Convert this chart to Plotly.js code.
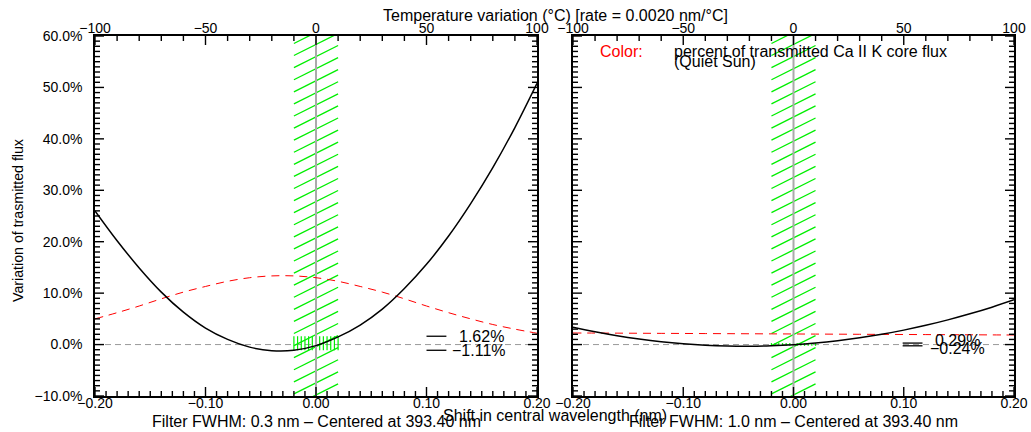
<!DOCTYPE html>
<html><head><meta charset="utf-8">
<script src="https://cdn.plot.ly/plotly-3.0.1.min.js"></script>
<style>html,body{margin:0;padding:0;background:#fff}#chart{width:1031px;height:432px}</style>
</head><body><div id="chart"></div>
<script>
// Shift in central wavelength (nm)
const shift = [-0.20,-0.18,-0.16,-0.14,-0.12,-0.10,-0.08,-0.06,-0.04,-0.02,0.00,0.02,0.04,0.06,0.08,0.10,0.12,0.14,0.16,0.18,0.20];
// Variation of transmitted flux (%), FWHM 0.3 nm
const fluxL  = [26.0,20.2,14.9,10.2,6.3,3.2,1.0,-0.5,-1.19,-1.11,-0.2,1.5,3.8,6.9,10.9,15.6,21.1,27.4,34.4,42.2,50.8];
// Percent of transmitted Ca II K core flux, FWHM 0.3 nm
const colorL = [5.0,6.2,7.5,8.9,10.2,11.3,12.3,13.0,13.35,13.35,13.0,12.3,11.3,10.2,8.9,7.5,6.2,5.0,3.9,3.0,2.2];
// Variation of transmitted flux (%), FWHM 1.0 nm
const fluxR  = [3.39,2.50,1.73,1.09,0.56,0.16,-0.12,-0.28,-0.32,-0.24,-0.04,0.29,0.74,1.31,2.00,2.81,3.74,4.80,5.98,7.27,8.70];
// Percent of transmitted Ca II K core flux, FWHM 1.0 nm
const colorR = [2.25,2.24,2.22,2.20,2.18,2.16,2.14,2.12,2.10,2.08,2.06,2.04,2.02,2.00,1.98,1.96,1.94,1.92,1.90,1.88,1.86];
// Filter passband (nm) and in-band extremes (%)
const band  = [-0.02, 0.02];
const bandL = [1.62, -1.11];
const bandR = [0.29, -0.24];
const fwhmLabels = ['0.3', '1.0'];
const centerWl = '393.40';
const rate = 0.0020; // nm per degree C
// tick spacing: bottom (nm), top (degC), left (%)
const xTick = {major:0.1, minor:0.01};
const tTick = {major:50, minor:10};
const yTick = {major:10, minor:1};

const FONT = 'Liberation Sans, Arial, Helvetica, sans-serif';
const GREEN = '#00ee00';

function fmt(v){ return (v<0?'\u2212':'')+Math.abs(v).toFixed(2)+'%'; }

const yRange = [-10, 60];
const xRange = [-0.2, 0.2];
const tRange = [xRange[0]/rate, xRange[1]/rate];
const yPx = 360, xPx = [442, 441];

function diagHatch(rise, step){
  const xs=[], ys=[];
  for(let y=yRange[0]-rise; y<=yRange[1]; y+=step){
    xs.push(band[0], band[1], null); ys.push(y, y+rise, null);
  }
  return {xs, ys};
}
function vertHatch(lo, hi, n){
  const xs=[], ys=[];
  for(let i=0;i<=n;i++){
    const x = band[0] + (band[1]-band[0])*i/n;
    xs.push(x, x, null); ys.push(lo, hi, null);
  }
  return {xs, ys};
}
// inward tick marks built from the axis ranges and tick spacing
function tickMarks(wPx){
  const kx = (xRange[1]-xRange[0])/wPx, ky = (yRange[1]-yRange[0])/yPx;
  const xs=[], ys=[];
  const nx = Math.round((xRange[1]-xRange[0])/xTick.minor), per = Math.round(xTick.major/xTick.minor);
  for(let i=0;i<=nx;i++){
    const x = xRange[0]+i*xTick.minor, L = (i%per===0?9:5)*ky;
    xs.push(x,x,null); ys.push(yRange[0], yRange[0]+L, null);
  }
  const nt = Math.round((tRange[1]-tRange[0])/tTick.minor), pt = Math.round(tTick.major/tTick.minor);
  for(let i=0;i<=nt;i++){
    const x = (tRange[0]+i*tTick.minor)*rate, L = (i%pt===0?9:5)*ky;
    xs.push(x,x,null); ys.push(yRange[1], yRange[1]-L, null);
  }
  const ny = Math.round((yRange[1]-yRange[0])/yTick.minor), py = Math.round(yTick.major/yTick.minor);
  for(let i=0;i<=ny;i++){
    const y = yRange[0]+i*yTick.minor, L = (i%py===0?9:5)*kx;
    xs.push(xRange[0], xRange[0]+L, null, xRange[1], xRange[1]-L, null);
    ys.push(y, y, null, y, y, null);
  }
  return {xs, ys};
}

const traces = [];
function panel(xa, ya, flux, color, bv, wPx){
  const h = diagHatch(4.3, 2.35);
  traces.push({x:h.xs, y:h.ys, xaxis:xa, yaxis:ya, mode:'lines', line:{color:GREEN, width:1.3}, hoverinfo:'skip', connectgaps:false});
  const v = vertHatch(Math.min(...bv), Math.max(...bv), 12);
  traces.push({x:v.xs, y:v.ys, xaxis:xa, yaxis:ya, mode:'lines', line:{color:GREEN, width:1.2}, hoverinfo:'skip', connectgaps:false});
  const c = (band[0]+band[1])/2;
  traces.push({x:[c,c], y:yRange, xaxis:xa, yaxis:ya, mode:'lines', line:{color:'#aaaaaa', width:2}, hoverinfo:'skip'});
  traces.push({x:shift, y:color, xaxis:xa, yaxis:ya, mode:'lines', line:{color:'#ff0000', width:1, dash:'8px,6px', shape:'spline'}});
  traces.push({x:shift, y:flux, xaxis:xa, yaxis:ya, mode:'lines', line:{color:'#000', width:1.5, shape:'spline'}});
  const t = tickMarks(wPx);
  traces.push({x:t.xs, y:t.ys, xaxis:xa, yaxis:ya, mode:'lines', line:{color:'#000', width:1.4}, hoverinfo:'skip', connectgaps:false, cliponaxis:false});
}
panel('x','y',fluxL,colorL,bandL,xPx[0]);
panel('x2','y2',fluxR,colorR,bandR,xPx[1]);
traces.push({x:tRange, y:[yRange[0],yRange[0]], xaxis:'x3', yaxis:'y', mode:'lines', line:{width:0, color:'rgba(0,0,0,0)'}, hoverinfo:'skip'});
traces.push({x:tRange, y:[yRange[0],yRange[0]], xaxis:'x4', yaxis:'y2', mode:'lines', line:{width:0, color:'rgba(0,0,0,0)'}, hoverinfo:'skip'});

const tf = {family:FONT, size:14, color:'#000'};
const tf16 = {family:FONT, size:16, color:'#000'};
const base = {ticks:'', zeroline:false, showgrid:false, tickfont:tf, showline:true, linecolor:'#000', linewidth:1.5};
const yDom = [1-396/432, 1-36/432];
function xBottom(dom, anchor){ return Object.assign({}, base, {domain:dom, anchor:anchor, range:xRange, dtick:xTick.major, tick0:0, tickformat:'.2f', ticklabelstandoff:-7}); }
function xTop(over, anchor){ return Object.assign({}, base, {overlaying:over, anchor:anchor, side:'top', range:tRange, dtick:tTick.major, tick0:0, ticklabelstandoff:-4}); }
function yLeft(anchor, labels){ return Object.assign({}, base, {domain:yDom, anchor:anchor, range:yRange, dtick:yTick.major, tick0:0, tickformat:'.1f', ticksuffix:'%', showticklabels:labels, mirror:true, ticklabelstandoff:labels?8:0}); }

const shapes = [];
[['x','y',bandL,[0.100,0.118]],['x2','y2',bandR,[0.099,0.117]]].forEach(([xa,ya,bv,xr])=>{
  shapes.push({type:'line', xref:xa+' domain', yref:ya, x0:0, x1:1, y0:0, y1:0, layer:'below', line:{color:'#999999', width:1, dash:'6px,4px'}});
  bv.forEach(v=>shapes.push({type:'line', xref:xa, yref:ya, x0:xr[0], x1:xr[1], y0:v, y1:v, line:{color:'#000', width:1.3}}));
});

const P = (px)=>px/1031, Q = (py)=>1-py/432;
const ann = [
  {text:'Variation of trasmitted flux', x:P(18), y:Q(221), textangle:-90, font:{family:FONT, size:14.2, color:'#000'}},
  {text:'Temperature variation (\u00b0C) [rate = '+rate.toFixed(4)+' nm/\u00b0C]', x:P(555), y:Q(16), font:tf16},
  {text:'Shift in central wavelength (nm)', x:P(555), y:Q(415), font:tf16},
  {text:'Filter FWHM: '+fwhmLabels[0]+' nm \u2013 Centered at '+centerWl+' nm', x:P(316), y:0, yanchor:'bottom', font:tf16},
  {text:'Filter FWHM: '+fwhmLabels[1]+' nm \u2013 Centered at '+centerWl+' nm', x:P(793.5), y:0, yanchor:'bottom', font:tf16},
  {text:'Color:', x:P(598), y:Q(52), xanchor:'left', font:{family:FONT, size:16, color:'#ff0000'}},
  {text:'percent of transmitted Ca II K core flux', x:P(672), y:Q(51), xanchor:'left', font:tf16},
  {text:'(Quiet Sun)', x:P(672), y:Q(61), xanchor:'left', font:tf16}
].map(a=>Object.assign({xref:'paper', yref:'paper', showarrow:false, xanchor:'center', yanchor:'middle'}, a));
ann.push({text:fmt(bandL[0]), xref:'x', yref:'y', x:0.1276, y:bandL[0], xanchor:'left', yanchor:'middle', showarrow:false, font:tf16});
ann.push({text:fmt(bandL[1]), xref:'x', yref:'y', x:0.1213, y:bandL[1], xanchor:'left', yanchor:'middle', showarrow:false, font:tf16});
ann.push({text:fmt(bandR[0]), xref:'x2', yref:'y2', x:0.1265, y:bandR[0], yshift:3, xanchor:'left', yanchor:'middle', showarrow:false, font:tf16});
ann.push({text:fmt(bandR[1]), xref:'x2', yref:'y2', x:0.1220, y:bandR[1], yshift:-3, xanchor:'left', yanchor:'middle', showarrow:false, font:tf16});

const layout = {
  width:1031, height:432, margin:{l:0,r:0,t:0,b:0}, showlegend:false,
  paper_bgcolor:'#fff', plot_bgcolor:'rgba(0,0,0,0)', font:{family:FONT, color:'#000'},
  xaxis:xBottom([95/1031,537/1031],'y'), xaxis2:xBottom([573/1031,1014/1031],'y2'),
  xaxis3:xTop('x','y'), xaxis4:xTop('x2','y2'),
  yaxis:yLeft('x',true), yaxis2:yLeft('x2',false),
  shapes:shapes, annotations:ann
};
Plotly.newPlot('chart', traces, layout, {displayModeBar:false});
</script></body></html>
